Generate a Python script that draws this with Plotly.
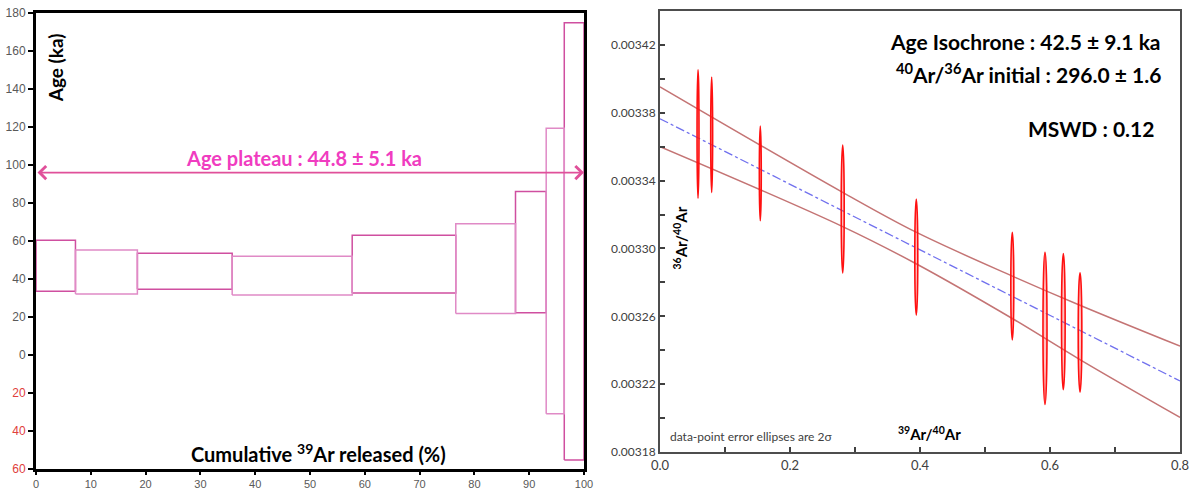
import plotly.graph_objects as go

# ---------------- Left: age spectrum ----------------
step_edges = [0, 7.2, 18.5, 35.8, 57.7, 76.6, 87.5, 93.1, 96.4, 100]
step_low = [33.6, 32.1, 34.6, 31.6, 32.6, 21.9, 22.2, -30.9, -55.3]
step_high = [60.4, 55.3, 53.5, 52.0, 63.0, 69.1, 86.0, 119.3, 174.9]
plateau_arrow_y = 96
left_ytickvals = [-60, -40, -20, 0, 20, 40, 60, 80, 100, 120, 140, 160, 180]
left_yticktext = ["60", "40", "20", "0", "20", "40", "60", "80", "100", "120", "140", "160", "180"]
left_xtickvals = [0, 10, 20, 30, 40, 50, 60, 70, 80, 90, 100]

# ---------------- Right: isochron ----------------
ell_x = [0.0585, 0.0795, 0.1543, 0.2811, 0.3943, 0.5420, 0.5923, 0.6205, 0.6462]
ell_y = [0.0033675, 0.0033670, 0.0033442, 0.0033233, 0.0032949, 0.0032778, 0.0032529, 0.0032569, 0.0032505]
ell_dx = [0.0015, 0.0015, 0.0015, 0.0023, 0.0023, 0.0023, 0.0031, 0.0028, 0.0028]
ell_dy = [3.78e-5, 3.41e-5, 2.79e-5, 3.77e-5, 3.43e-5, 3.18e-5, 4.49e-5, 4.01e-5, 3.52e-5]
iso_x = [0.0, 0.8]
iso_y = [0.0033765, 0.0032219]
env_x = [0.0, 0.281, 0.394, 0.542, 0.646, 0.8]
env_upper = [0.0033953, 0.0033331, 0.0033096, 0.0032837, 0.0032665, 0.0032424]
env_lower = [0.0033600, 0.0033129, 0.0032910, 0.0032587, 0.0032345, 0.0032004]
right_ytickvals = [0.00318, 0.00322, 0.00326, 0.00330, 0.00334, 0.00338, 0.00342]
right_yticktext = ["0.00318", "0.00322", "0.00326", "0.00330", "0.00334", "0.00338", "0.00342"]
right_xtickvals = [0.0, 0.2, 0.4, 0.6, 0.8]
right_xticktext = ["0.0", "0.2", "0.4", "0.6", "0.8"]

fig = go.Figure()

# step boxes (two alternating tones)
for parity, col in [(0, "#cf4fa0"), (1, "#e08ac6")]:
    xs, ys = [], []
    for i in range(len(step_low)):
        if i % 2 != parity:
            continue
        x0, x1 = step_edges[i], step_edges[i + 1]
        lo, hi = step_low[i], step_high[i]
        xs += [x0, x1, x1, x0, x0, None]
        ys += [lo, lo, hi, hi, lo, None]
    fig.add_trace(go.Scatter(x=xs, y=ys, mode="lines", xaxis="x", yaxis="y",
                             line=dict(color=col, width=1.5), hoverinfo="skip",
                             showlegend=False))

# isochron envelopes and line
fig.add_trace(go.Scatter(x=env_x, y=env_upper, mode="lines", xaxis="x2", yaxis="y2",
                         line=dict(color="#c47474", width=1.5, shape="spline"), showlegend=False))
fig.add_trace(go.Scatter(x=env_x, y=env_lower, mode="lines", xaxis="x2", yaxis="y2",
                         line=dict(color="#c47474", width=1.5, shape="spline"), showlegend=False))
fig.add_trace(go.Scatter(x=iso_x, y=iso_y, mode="lines", xaxis="x2", yaxis="y2",
                         line=dict(color="#7070ee", width=1.3, dash="dashdot"), showlegend=False))

shapes = []
for cx, cy, dx, dy in zip(ell_x, ell_y, ell_dx, ell_dy):
    shapes.append(dict(type="circle", xref="x2", yref="y2",
                       x0=cx - dx, x1=cx + dx, y0=cy - dy, y1=cy + dy,
                       line=dict(color="#ff1010", width=1.6),
                       fillcolor="rgba(255,80,80,0.35)", layer="above"))

red = "#e0403c"
yt = []
for v, t in zip(left_ytickvals, left_yticktext):
    yt.append(f'<span style="color:{red}">{t}</span>' if v < 0 else t)

W, H = 1194, 490
fig.update_layout(
    width=W, height=H,
    margin=dict(l=0, r=0, t=0, b=0),
    paper_bgcolor="white", plot_bgcolor="white",
    showlegend=False,
    shapes=shapes,
    xaxis=dict(domain=[36 / W, 584 / W], range=[0, 100], tickvals=left_xtickvals,
               showgrid=False, zeroline=False, showline=True, mirror=True,
               linecolor="black", linewidth=3, ticks="outside", ticklen=3, tickwidth=2,
               tickcolor="black", tickfont=dict(family="Liberation Sans", size=11, color="#595959"),
               automargin=False),
    yaxis=dict(domain=[1 - 469 / H, 1 - 13 / H], range=[-60, 180], tickvals=left_ytickvals,
               ticktext=yt, showgrid=False, zeroline=False, showline=True, mirror=True,
               linecolor="black", linewidth=3, ticks="outside", ticklen=5, tickwidth=2,
               tickcolor="black", tickfont=dict(family="Liberation Sans", size=12, color="#595959"),
               automargin=False),
    xaxis2=dict(domain=[660 / W, 1180 / W], range=[0, 0.8], anchor="y2",
                tickvals=right_xtickvals, ticktext=right_xticktext,
                minor=dict(dtick=0.1, ticks="inside", ticklen=5, tickcolor="#404040", tickwidth=1.5),
                showgrid=False, zeroline=False, showline=True, mirror=True,
                linecolor="#4d4d4d", linewidth=2, ticks="inside", ticklen=5, tickwidth=1.5,
                tickcolor="#404040", tickfont=dict(family="Lato", size=13, color="#404040"),
                automargin=False),
    yaxis2=dict(domain=[1 - 452 / H, 1 - 11 / H], range=[0.00318, 0.00344], anchor="x2",
                tickvals=right_ytickvals, ticktext=right_yticktext,
                minor=dict(dtick=0.00002, tick0=0.00318, ticks="inside", ticklen=5,
                           tickcolor="#404040", tickwidth=1.5),
                showgrid=False, zeroline=False, showline=True, mirror=True,
                linecolor="#4d4d4d", linewidth=2, ticks="inside", ticklen=5, tickwidth=1.5,
                tickcolor="#404040", tickfont=dict(family="Lato", size=12, color="#404040"),
                automargin=False),
)

ann = []
# plateau double arrow
ann.append(dict(x=100, y=plateau_arrow_y, ax=0, ay=plateau_arrow_y, xref="x", yref="y",
                axref="x", ayref="y", text="", showarrow=True, arrowhead=4, startarrowhead=4,
                arrowside="end+start", arrowsize=1.6, startarrowsize=1.6, arrowwidth=1.6,
                arrowcolor="#e0509a", standoff=0, startstandoff=0))
ann.append(dict(x=48.9, y=103.7, xref="x", yref="y", text="<b>Age plateau : 44.8 ± 5.1 ka</b>",
                showarrow=False, font=dict(family="Lato", size=20, color="#f03cc0")))
ann.append(dict(x=3.5, y=151, xref="x", yref="y", text="<b>Age (ka)</b>", textangle=-90,
                showarrow=False, font=dict(family="Lato", size=19, color="black")))
ann.append(dict(x=51.5, y=-51.6, xref="x", yref="y",
                text="<b>Cumulative <sup>39</sup>Ar released (%)</b>",
                showarrow=False, font=dict(family="Lato", size=20, color="black")))
# right texts
ann.append(dict(x=0.774, y=0.0034223, xref="x2", yref="y2", xanchor="right",
                text="<b>Age Isochrone : 42.5 ± 9.1 ka</b>",
                showarrow=False, font=dict(family="Lato", size=21, color="black")))
ann.append(dict(x=0.774, y=0.0034035, xref="x2", yref="y2", xanchor="right",
                text="<b><sup>40</sup>Ar/<sup>36</sup>Ar initial : 296.0 ± 1.6</b>",
                showarrow=False, font=dict(family="Lato", size=21, color="black")))
ann.append(dict(x=0.763, y=0.0033706, xref="x2", yref="y2", xanchor="right",
                text="<b>MSWD : 0.12</b>",
                showarrow=False, font=dict(family="Lato", size=21, color="black")))
ann.append(dict(x=0.0308, y=0.0033059, xref="x2", yref="y2", textangle=-90,
                text="<b><sup>36</sup>Ar/<sup>40</sup>Ar</b>",
                showarrow=False, font=dict(family="Lato", size=15, color="black")))
ann.append(dict(x=0.0123, y=0.0031894, xref="x2", yref="y2", xanchor="left",
                text="data-point error ellipses are 2σ",
                showarrow=False, font=dict(family="Lato", size=12, color="#404040")))
ann.append(dict(x=0.415, y=0.0031912, xref="x2", yref="y2",
                text="<b><sup>39</sup>Ar/<sup>40</sup>Ar</b>",
                showarrow=False, font=dict(family="Lato", size=15, color="black")))
fig.update_layout(annotations=ann)

fig.write_html("out.html", config={"displayModeBar": False},
               post_script="document.body.style.margin='0';document.body.style.overflow='hidden';")
